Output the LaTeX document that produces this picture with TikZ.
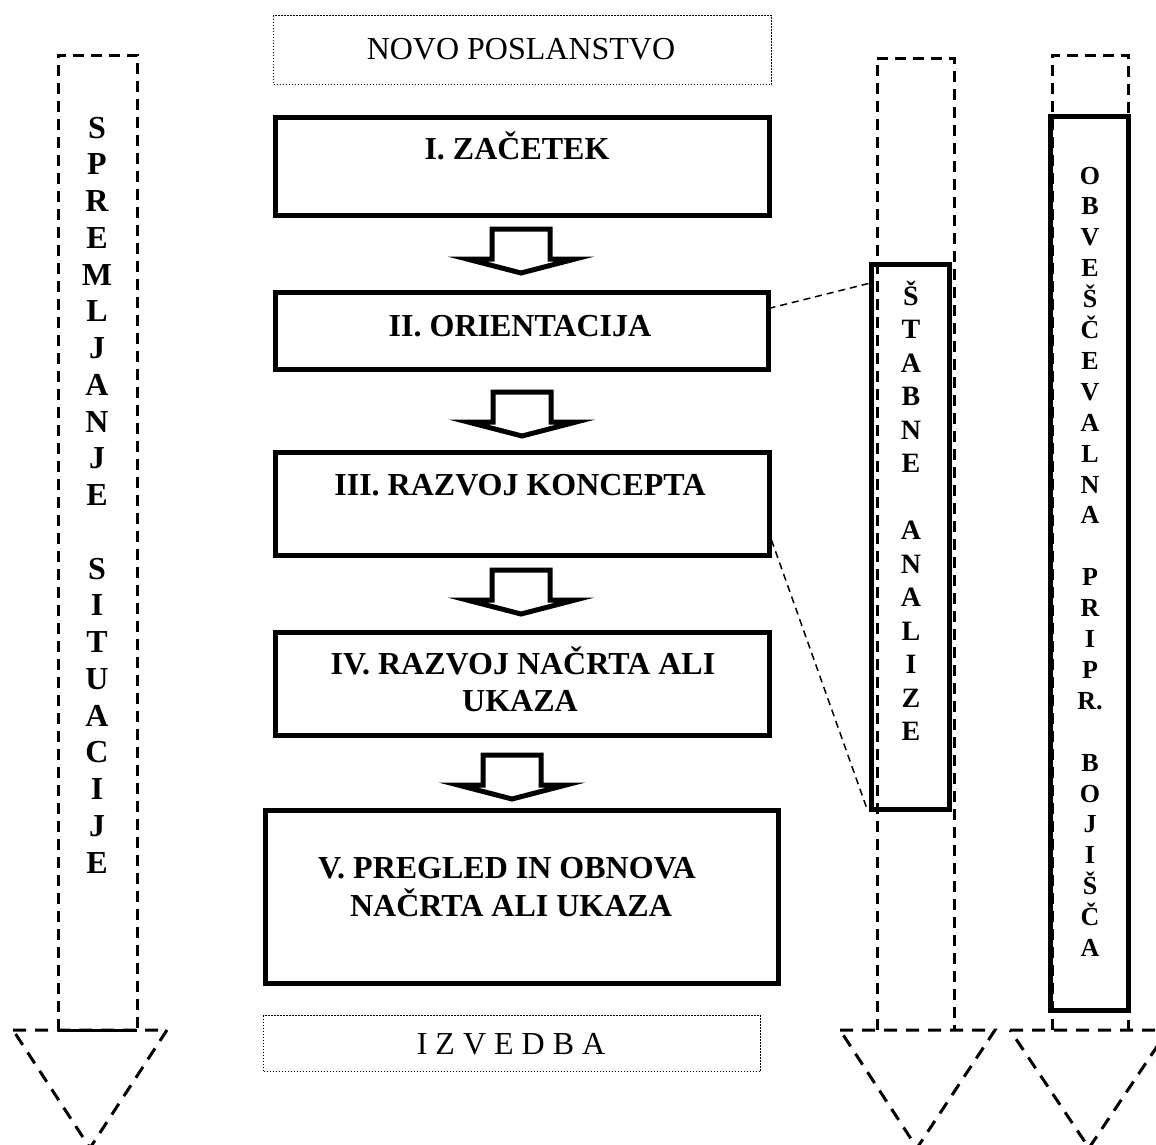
\documentclass[tikz,border=0pt]{standalone}
\usepackage{fontspec}
\setmainfont{Liberation Serif}
\usetikzlibrary{calc}
\begin{document}
\begin{tikzpicture}[x=1pt,y=-1pt,
  stepbox/.style={draw, line width=5pt, inner sep=0pt, outer sep=0pt},
  dotbox/.style={draw, line width=1.8pt, dash pattern=on 1.6pt off 1.4pt, inner sep=0pt, outer sep=0pt},
  title/.style={font=\fontsize{32}{37}\selectfont\bfseries, anchor=base, inner sep=0pt},
  plaintext/.style={font=\fontsize{32}{37}\selectfont, anchor=base, inner sep=0pt},
  colletter/.style={font=\fontsize{#1}{#1}\selectfont\bfseries, anchor=base, inner sep=0pt},
  shaft/.style={line width=3pt, dash pattern=on 11pt off 7pt},
  headline/.style={line width=3pt, dash pattern=on 13pt off 9pt},
  link/.style={line width=1.5pt, dash pattern=on 7pt off 5pt},
  downarrow/.pic={\draw[line width=5pt, line join=miter]
     (-29,0) -- (29,0) -- (29,30) -- (54,30) -- (0,44) -- (-54,30) -- (-29,30) -- cycle;}
]
\useasboundingbox (0,0) rectangle (1156,1144);

% ---- dashed side arrows (drawn first, boxes lie on top) ----
% left: SPREMLJANJE SITUACIJE
\draw[shaft] (58,1030) -- (58,55) -- (137,55) -- (137,1030);
\draw[line width=3pt] (58,1030) -- (137,1030);
\draw[headline] (13,1030) -- (167,1030) -- (90,1148) -- cycle;
% middle right: STABNE ANALIZE
\draw[shaft] (877,1030) -- (877,58) -- (954,58) -- (954,1030);
\draw[headline] (840,1030) -- (995,1030) -- (917,1148) -- cycle;
% far right: OBVESCEVALNA PRIPRAVA
\draw[shaft] (1052,1030) -- (1052,55) -- (1128,55) -- (1128,1030);
\draw[headline] (1010,1030) -- (1168,1030) -- (1089,1148) -- cycle;

% ---- main sequence ----
\node[dotbox, minimum width=498pt, minimum height=69pt] (start) at (522.5,50) {};
\node[plaintext] (startlbl) at (521,59) {NOVO POSLANSTVO};

\node[stepbox, minimum width=494pt, minimum height=98pt] (b1) at (522.5,166.5) {};
\node[title] (t1) at (517,159) {I. ZAČETEK};

\node[stepbox, minimum width=493pt, minimum height=77pt] (b2) at (522,331) {};
\node[title] (t2) at (520,336) {II. ORIENTACIJA};

\node[stepbox, minimum width=494pt, minimum height=103pt] (b3) at (522.5,504) {};
\node[title] (t3) at (520,495) {III. RAZVOJ KONCEPTA};

\node[stepbox, minimum width=494pt, minimum height=103pt] (b4) at (522.5,684) {};
\node[title] (t4a) at (523,674) {IV. RAZVOJ NAČRTA ALI};
\node[title] (t4b) at (520,711) {UKAZA};

\node[stepbox, minimum width=513pt, minimum height=173pt] (b5) at (522,897) {};
\node[title] (t5a) at (507,878) {V. PREGLED IN OBNOVA};
\node[title] (t5b) at (511,916) {NAČRTA ALI UKAZA};

\node[dotbox, minimum width=497pt, minimum height=56pt] (finish) at (512,1043.5) {};
\node[plaintext] (finishlbl) at (511,1054) {I Z V E D B A};

% block arrows between the phases
\pic at (521,229) {downarrow};
\pic at (522,392) {downarrow};
\pic at (521,570) {downarrow};
\pic at (512,755) {downarrow};

% ---- staff analyses box ----
\node[stepbox, minimum width=78pt, minimum height=545pt] (sa) at (910.5,537) {};
\foreach \ch/\k in {Š/0,T/1,A/2,B/3,N/4,E/5,A/7,N/8,A/9,L/10,I/11,Z/12,E/13}
  \node[colletter=28] (sa\k) at (911,{305+33.5*\k}) {\ch};

% dashed links from phases II and III to the staff analyses
\coordinate (l2a) at ($(b2.north east)+(0,16)$);
\coordinate (l2b) at ($(sa.north west)+(-3,19)$);
\draw[link] (l2a) -- (l2b);
\coordinate (l3a) at ($(b3.east)+(2,36)$);
\coordinate (l3b) at ($(sa.south west)+(-5,-2)$);
\draw[link] (l3a) -- (l3b);

% ---- intelligence preparation box ----
\node[stepbox, minimum width=78pt, minimum height=894pt] (ob) at (1089.5,563.5) {};
\foreach \ch/\k in {O/0,B/1,V/2,E/3,Š/4,Č/5,E/6,V/7,A/8,L/9,N/10,A/11,
                    P/13,R/14,I/15,P/16,R./17,
                    B/19,O/20,J/21,I/22,Š/23,Č/24,A/25}
  \node[colletter=26] (ob\k) at (1090,{184+30.9*\k}) {\ch};

% ---- situation monitoring column ----
\foreach \ch/\k in {S/0,P/1,R/2,E/3,M/4,L/5,J/6,A/7,N/8,J/9,E/10,
                    S/12,I/13,T/14,U/15,A/16,C/17,I/18,J/19,E/20}
  \node[colletter=32] (sp\k) at (97,{138+36.75*\k}) {\ch};

\end{tikzpicture}
\end{document}
